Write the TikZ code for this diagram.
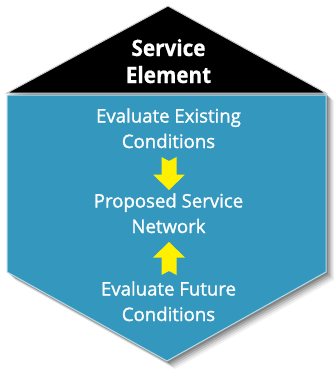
\documentclass[tikz,border=0pt]{standalone}
\usepackage{fontspec}
\setmainfont{Open Sans}
\newfontfamily\bodyfont[FakeBold=1.3]{Open Sans}
\newfontfamily\titlefont[FakeStretch=0.92,FakeBold=0.6]{Open Sans Bold}
\usetikzlibrary{calc}
\definecolor{hexteal}{RGB}{52,151,190}
\definecolor{arrowyellow}{RGB}{255,240,0}
\begin{document}
\begin{tikzpicture}[x=1pt,y=-1pt,
  bodytext/.style={text=white,font=\bodyfont\fontsize{18.6}{25.5}\selectfont,align=center,inner sep=0pt},
  titletext/.style={text=white,font=\titlefont\fontsize{22.5}{27}\selectfont,align=center,inner sep=0pt},
  yarrow/.pic={\fill[arrowyellow] (0,-16.5) -- (16,-1) -- (7.5,-1) -- (7.5,16.5) -- (0,12.5) -- (-7.5,16.5) -- (-7.5,-1) -- (-16,-1) -- cycle;}]
\useasboundingbox (0,0) rectangle (335,370);
\fill[white] (0,0) rectangle (335,370);
% shadow
\foreach \d/\o in {8/0.06,6.5/0.09,5/0.12,3.5/0.15,2/0.18}{
  \fill[black,opacity=\o] (168+\d,6+\d) -- (326+\d,93+\d) -- (326+\d,272+\d) -- (167+\d,361+\d) -- (7+\d,272+\d) -- (7+\d,93+\d) -- cycle;
}
% black roof
\filldraw[fill=black,draw=gray!40,line width=1pt] (168,6) -- (326,93) -- (7,93) -- cycle;
% teal body
\filldraw[fill=hexteal,draw=white!65!hexteal,line width=1pt] (7,95) -- (326,95) -- (326,272) -- (167,361) -- (7,272) -- cycle;
% texts
\node[titletext,anchor=base] (title) at (168.5,83) {Service\\Element};
\node[bodytext,anchor=base] (existing) at (168.5,148) {Evaluate Existing\\Conditions};
\node[bodytext,anchor=base] (proposed) at (168.5,233) {Proposed Service\\Network};
\node[bodytext,anchor=base] (future) at (168.5,321) {Evaluate Future\\Conditions};
% arrows
\coordinate (downarrow) at (169,173.5);
\coordinate (uparrow) at (169,258.5);
\pic[rotate=180] at (downarrow) {yarrow};
\pic at (uparrow) {yarrow};
\end{tikzpicture}
\end{document}
